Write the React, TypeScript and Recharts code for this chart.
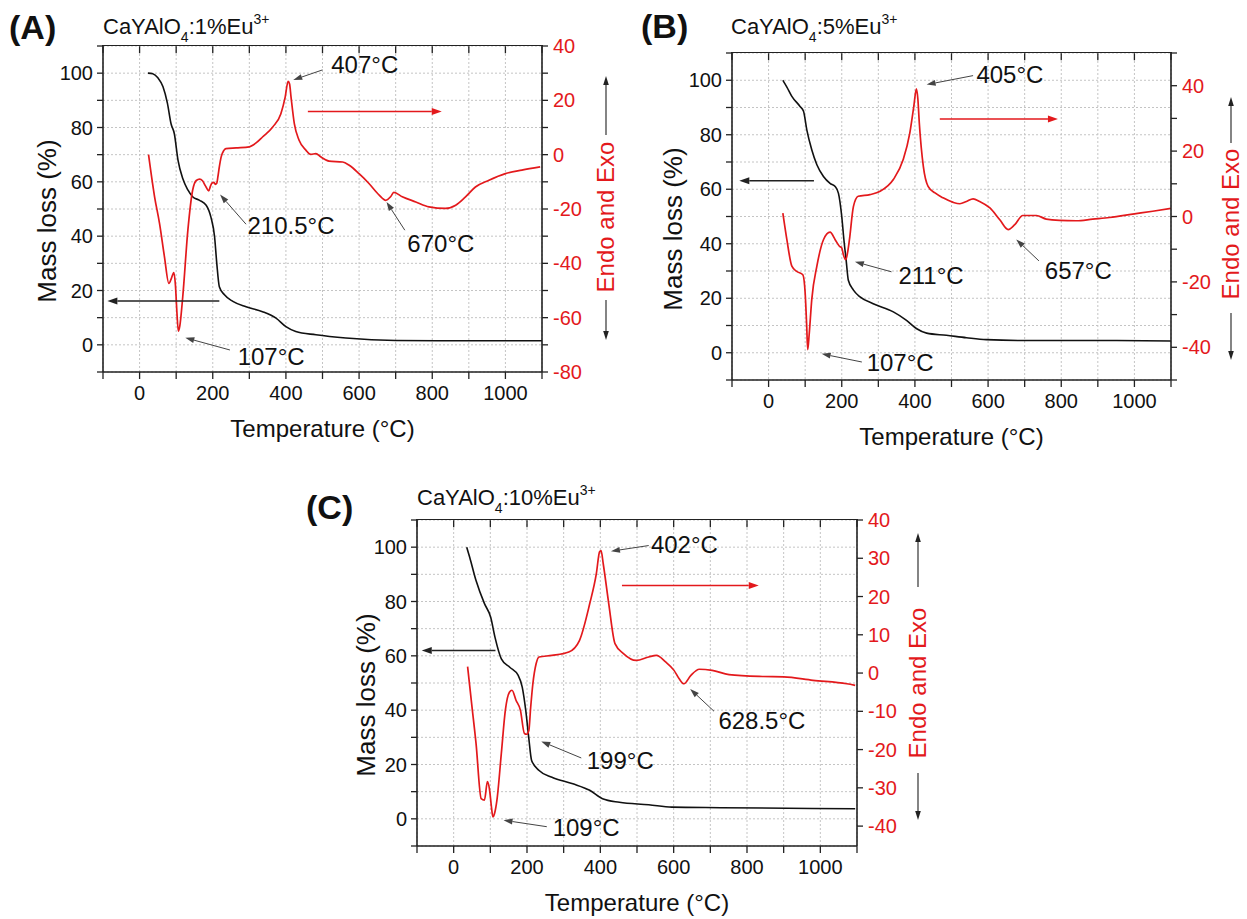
import React from "react";
import { LineChart, Line, XAxis, YAxis, CartesianGrid, ReferenceLine, ReferenceDot } from "recharts";

const FONT = "'Liberation Sans', Arial, Helvetica, sans-serif";
const RED = "#e3191c";
const INK = "#111";

const TEMP_TICKS = [-100, 0, 100, 200, 300, 400, 500, 600, 700, 800, 900, 1000, 1100];
const TEMP_LABELS = [0, 200, 400, 600, 800, 1000];
const MASS_TICKS = [-10, 0, 10, 20, 30, 40, 50, 60, 70, 80, 90, 100, 110];
const MASS_LABELS = [0, 20, 40, 60, 80, 100];

// (A) CaYAlO4:1%Eu
const A_MASS_T = [23, 36, 50, 64, 76, 86, 95, 105, 118, 132, 145, 164, 182, 195, 205, 211, 218, 232, 255, 291, 336, 373, 400, 427, 482, 564, 700, 882, 1100];
const A_MASS = [100, 99.8, 98.3, 95, 89, 81.4, 77.7, 68, 61.2, 57, 54.5, 53.2, 51.4, 47, 39.8, 30, 21.4, 18.4, 16, 14, 12.2, 9.8, 6.7, 4.9, 3.7, 2.5, 1.6, 1.5, 1.5];
const A_DTA_T = [24.5, 41, 54.5, 68, 80, 87, 93.6, 98, 102, 106, 110, 118, 132, 145, 155, 164, 172, 180, 189, 194, 198, 203, 207, 211, 214, 218, 223, 230, 236, 264, 300, 320, 336, 364, 386, 398, 406, 410, 414, 423, 436, 455, 468, 482, 495, 518, 555, 573, 600, 627, 655, 673, 686, 695, 718, 755, 791, 836, 864, 891, 918, 955, 1000, 1045, 1095];
const A_DTA = [0, -15.5, -25.3, -37.6, -47.4, -45.5, -43.4, -48, -58, -65, -63, -52.3, -27.8, -13.1, -9.5, -9, -9.6, -11.5, -13.3, -11.5, -10.4, -10.2, -10.9, -10.5, -8.2, -4.5, -0.8, 1.5, 2.2, 2.5, 2.9, 4.5, 6.5, 10.2, 15, 21.2, 27, 26, 21.2, 11.4, 5.3, 1.6, 0.1, 0.4, -0.8, -2.4, -2.7, -3.9, -7, -10.6, -14.9, -16.8, -15.5, -13.9, -15.5, -17.4, -19.2, -19.8, -18.6, -15.5, -11.9, -9.4, -7, -5.7, -4.5];

// (B) CaYAlO4:5%Eu
const B_MASS_T = [39, 50, 63.6, 86, 95.5, 104.5, 118, 132, 150, 168, 182, 191, 200, 206, 212, 218, 232, 250, 286, 341, 377, 405, 432, 486, 541, 595, 705, 930, 1100];
const B_MASS = [100, 97.5, 94.1, 90.4, 88.6, 81.8, 74.5, 69, 64.7, 62.2, 61, 58.5, 50, 41.3, 34, 26.6, 23, 20.5, 18, 15, 11.9, 8.8, 7.2, 6.4, 5.5, 4.8, 4.5, 4.5, 4.3];
const B_DTA_T = [39, 50, 63.6, 77, 93.6, 100, 104, 107, 111, 118, 132, 150, 168, 182, 193.6, 200, 204.5, 211, 216, 221, 232, 245, 277, 305, 341, 368, 386, 397, 404, 408, 412, 423, 436, 455, 477, 505, 523, 541, 559, 577, 605, 632, 655, 673, 695, 732, 759, 795, 841, 886, 932, 1000, 1050, 1100];
const B_DTA = [1, -7.1, -15.2, -16.8, -17.8, -23.4, -33, -40.7, -36, -25.4, -15.2, -7.1, -4.8, -7.1, -9.1, -9.6, -11.7, -13.2, -11, -7.1, 3.1, 6.2, 6.7, 7.7, 11.3, 17.4, 25.5, 33.7, 39, 36, 28.6, 15.3, 9.2, 7.2, 5.7, 4.3, 3.9, 4.6, 5.4, 4.6, 2.6, -1, -4, -2.5, 0.3, 0.3, -0.8, -1.2, -1.3, -0.8, -0.3, 0.8, 1.6, 2.5];

// (C) CaYAlO4:10%Eu
const C_MASS_T = [35.6, 43.7, 61, 84, 101, 112.6, 130, 153, 176, 187, 196.6, 204.6, 212.6, 233, 268, 325, 371, 406, 452, 532, 595, 728, 1095];
const C_MASS = [100, 96.3, 87.7, 79.2, 74.2, 66.9, 58.9, 55.8, 52.8, 48.5, 39.9, 30.1, 21.5, 17.8, 15.3, 12.9, 10.5, 7.4, 6.1, 5.2, 4.3, 4.1, 3.7];
const C_DTA_T = [38, 49, 61, 75, 84, 92, 98, 103, 107, 112, 118, 130, 141, 152, 159, 170, 182, 193, 199, 205, 210, 216, 225, 233, 268, 314, 343, 371, 389, 398, 402, 408, 423, 440, 463, 498, 532, 553, 578, 601, 615, 628, 647, 670, 705, 751, 842, 900, 980, 1072, 1095];
const C_DTA = [1.7, -8, -18.4, -32.8, -33.2, -28.4, -30.6, -35, -37.6, -36.5, -33.2, -21, -9.7, -5, -4.5, -7.1, -9.7, -15.8, -16, -15, -9, -2.8, 2.5, 4.2, 4.6, 5.5, 8.5, 18.1, 25.9, 31.7, 32, 28.5, 18.1, 7.7, 5.1, 3.3, 4.2, 4.6, 2.9, 0.7, -1.5, -2.8, -0.6, 1, 0.7, -0.4, -0.9, -1, -1.9, -2.8, -3.2];

// peak labels: text anchor (t, mass%), arrow from -> to
type Note = { text: string; t: number; v: number; from: [number, number]; to: [number, number] };
const A_NOTES: Note[] = [
  { text: "407°C", t: 524, v: 103.4, from: [500, 101.2], to: [420, 97.5] },
  { text: "210.5°C", t: 295, v: 44.1, from: [291, 44.4], to: [220, 55.3] },
  { text: "670°C", t: 732, v: 37.3, from: [725, 42.2], to: [675, 52.6] },
  { text: "107°C", t: 268, v: -4.1, from: [247, -1.9], to: [125, 2.6] },
];
const B_NOTES: Note[] = [
  { text: "405°C", t: 568, v: 102, from: [559, 101.7], to: [432, 98.4] },
  { text: "211°C", t: 355, v: 28.5, from: [336, 29.7], to: [236, 33.4] },
  { text: "657°C", t: 755, v: 30.3, from: [739, 33.7], to: [677, 41.6] },
  { text: "107°C", t: 268, v: -3.4, from: [255, -3.4], to: [145, -0.4] },
];
const C_NOTES: Note[] = [
  { text: "402°C", t: 538, v: 101, from: [532, 100.6], to: [429, 98.5] },
  { text: "199°C", t: 363, v: 21.7, from: [348, 22.4], to: [239, 28.5] },
  { text: "628.5°C", t: 722, v: 36.2, from: [710, 39.6], to: [645, 47.8] },
  { text: "109°C", t: 270, v: -3.1, from: [254, -2.9], to: [136, -0.5] },
];

const arrowShape = (color: string, w: number, head: number, spread: number) => (p: any) => {
  const { x1, y1, x2, y2 } = p;
  const a = Math.atan2(y2 - y1, x2 - x1);
  const bx = x2 - head * Math.cos(a);
  const by = y2 - head * Math.sin(a);
  const nx = -Math.sin(a) * spread;
  const ny = Math.cos(a) * spread;
  return (
    <g>
      <line x1={x1} y1={y1} x2={bx} y2={by} stroke={color} strokeWidth={w} />
      <polygon points={`${x2},${y2} ${bx + nx},${by + ny} ${bx - nx},${by - ny}`} fill={color} />
    </g>
  );
};

// inward tick on the top edge of the frame
const topTick = (p: any) => <line x1={p.x1} y1={p.y1} x2={p.x1} y2={p.y1 + 7} stroke="#222" strokeWidth={1.3} />;

const noteText = (text: string) => (p: any) => (
  <text x={p.cx} y={p.cy} dy="0.36em" fontSize={24} fill={INK} fontFamily={FONT}>{text}</text>
);

function VArrow({ x, y1, y2, up }: { x: number; y1: number; y2: number; up: boolean }) {
  const h = y2 - y1;
  return (
    <svg style={{ position: "absolute", left: x - 5, top: y1, overflow: "visible" }} width={10} height={h}>
      <line x1={5} x2={5} y1={up ? 7 : 0} y2={up ? h : h - 7} stroke="#333" strokeWidth={1.2} />
      {up ? <polygon points="5,0 2.2,9 7.8,9" fill="#222" /> : <polygon points={`5,${h} 2.2,${h - 9} 7.8,${h - 9}`} fill="#222" />}
    </svg>
  );
}

type PanelCfg = {
  letter: string; dope: string;
  box: { left: number; top: number; width: number; height: number };
  margin: { top: number; left: number; right: number; bottom: number };
  rightDomain: [number, number]; rightTicks: number[]; rightLabels: number[];
  massT: number[]; mass: number[]; dtaT: number[]; dta: number[];
  notes: Note[];
  blackArrow: [number, number, number]; // from t, to t, mass %
  redArrow: [number, number, number]; // from t, to t, right value
  massDx: number; endoDx: number; endoDy: number;
  up: [number, number]; down: [number, number];
  letterPos: [number, number]; titlePos: [number, number];
};

const range = (a: number, b: number) => { const r: number[] = []; for (let v = a; v <= b; v += 10) r.push(v); return r; };

const PANELS: PanelCfg[] = [
  {
    letter: "(A)", dope: "1%", box: { left: 0, top: 0, width: 620, height: 460 },
    margin: { top: 46, left: 43, right: 18, bottom: 28 },
    rightDomain: [-80, 40], rightTicks: range(-80, 40), rightLabels: [-80, -60, -40, -20, 0, 20, 40],
    massT: A_MASS_T, mass: A_MASS, dtaT: A_DTA_T, dta: A_DTA, notes: A_NOTES,
    blackArrow: [218, -88, 16.1], redArrow: [460, 826, 15.9],
    massDx: -56, endoDx: 64, endoDy: 8, up: [30, 89], down: [254, 294],
    letterPos: [9, 27], titlePos: [103, 27],
  },
  {
    letter: "(B)", dope: "5%", box: { left: 620, top: 0, width: 627, height: 460 },
    margin: { top: 53, left: 52, right: 16, bottom: 20 },
    rightDomain: [-50, 50], rightTicks: range(-50, 50), rightLabels: [-40, -20, 0, 20, 40],
    massT: B_MASS_T, mass: B_MASS, dtaT: B_DTA_T, dta: B_DTA, notes: B_NOTES,
    blackArrow: [124, -80, 63.1], redArrow: [468, 791, 29.8],
    massDx: -59, endoDx: 60, endoDy: 7, up: [44, 90], down: [260, 307],
    letterPos: [641, 26], titlePos: [731, 27],
  },
  {
    letter: "(C)", dope: "10%", box: { left: 300, top: 470, width: 660, height: 449 },
    margin: { top: 50, left: 57, right: 43, bottom: 13 },
    rightDomain: [-45.2, 40], rightTicks: range(-40, 40), rightLabels: range(-40, 40),
    massT: C_MASS_T, mass: C_MASS, dtaT: C_DTA_T, dta: C_DTA, notes: C_NOTES,
    blackArrow: [114, -87, 62], redArrow: [459, 832, 22.9],
    massDx: -51, endoDx: 61, endoDy: 0, up: [13, 67], down: [253, 300],
    letterPos: [306, 507], titlePos: [417, 498],
  },
];

const AXIS_W = 60;
const XAXIS_H = 60;

function Panel({ cfg }: { cfg: PanelCfg }) {
  const massData = cfg.massT.map((t, i) => ({ t, v: cfg.mass[i] }));
  const dtaData = cfg.dtaT.map((t, i) => ({ t, v: cfg.dta[i] }));
  const { box, margin } = cfg;
  const x0 = box.left + margin.left + AXIS_W;
  const x1 = box.left + box.width - margin.right - AXIS_W;
  const y0 = box.top + margin.top;
  const y1 = box.top + box.height - margin.bottom - XAXIS_H;
  const cy = (y0 + y1) / 2;
  const axisLine = { stroke: "#222", strokeWidth: 1.6 };
  const tickLine = { stroke: "#222", strokeWidth: 1.3 };

  return (
    <>
      <div style={{ position: "absolute", left: box.left, top: box.top }}>
        <LineChart width={box.width} height={box.height} margin={margin} style={{ fontFamily: FONT }}>
          <CartesianGrid xAxisId="b" yAxisId="left" stroke="#c4c4c4" strokeDasharray="2 2" />
          <XAxis xAxisId="b" type="number" dataKey="t" domain={[-100, 1100]} ticks={TEMP_TICKS} interval={0}
            allowDataOverflow height={XAXIS_H} tickSize={7} tickMargin={7} axisLine={axisLine} tickLine={tickLine}
            tick={{ fontSize: 20, fill: INK }} tickFormatter={(v: number) => (TEMP_LABELS.includes(v) ? String(v) : "")} />
          <YAxis yAxisId="left" type="number" domain={[-10, 110]} ticks={MASS_TICKS} interval={0} allowDataOverflow
            width={AXIS_W} tickSize={6} tickMargin={4} axisLine={axisLine} tickLine={tickLine}
            tick={{ fontSize: 20, fill: INK }} tickFormatter={(v: number) => (MASS_LABELS.includes(v) ? String(v) : "")} />
          <YAxis yAxisId="right" orientation="right" type="number" domain={cfg.rightDomain} ticks={cfg.rightTicks}
            interval={0} allowDataOverflow width={AXIS_W} tickSize={6} tickMargin={5} axisLine={axisLine} tickLine={tickLine}
            tick={{ fontSize: 20, fill: RED }} tickFormatter={(v: number) => (cfg.rightLabels.includes(v) ? String(v) : "")} />
          {TEMP_TICKS.map((t) => (
            <ReferenceLine key={"tt" + t} xAxisId="b" yAxisId="left"
              segment={[{ x: t, y: 109.9 }, { x: t, y: 108 }]} shape={topTick} />
          ))}
          <Line data={massData} dataKey="v" xAxisId="b" yAxisId="left" type="monotone" stroke={INK} strokeWidth={1.6}
            dot={false} isAnimationActive={false} />
          <Line data={dtaData} dataKey="v" xAxisId="b" yAxisId="right" type="monotone" stroke={RED} strokeWidth={1.7}
            dot={false} isAnimationActive={false} />
          <ReferenceLine xAxisId="b" yAxisId="left"
            segment={[{ x: cfg.blackArrow[0], y: cfg.blackArrow[2] }, { x: cfg.blackArrow[1], y: cfg.blackArrow[2] }]}
            shape={arrowShape("#222", 1.5, 10, 3.5)} />
          <ReferenceLine xAxisId="b" yAxisId="right"
            segment={[{ x: cfg.redArrow[0], y: cfg.redArrow[2] }, { x: cfg.redArrow[1], y: cfg.redArrow[2] }]}
            shape={arrowShape(RED, 1.5, 10, 3.5)} />
          {cfg.notes.map((n) => (
            <ReferenceLine key={n.text + "a"} xAxisId="b" yAxisId="left"
              segment={[{ x: n.from[0], y: n.from[1] }, { x: n.to[0], y: n.to[1] }]}
              shape={arrowShape("#444", 1, 9, 3)} />
          ))}
          {cfg.notes.map((n) => (
            <ReferenceDot key={n.text} xAxisId="b" yAxisId="left" x={n.t} y={n.v} r={0} ifOverflow="visible" shape={noteText(n.text)} />
          ))}
        </LineChart>
      </div>
      {/* top edge of the plot frame */}
      <div style={{ position: "absolute", left: x0 - 0.8, top: y0 - 0.8, width: x1 - x0 + 1.6, height: 0, borderTop: "1.6px solid #222" }} />
      <div style={{ position: "absolute", left: cfg.letterPos[0], top: cfg.letterPos[1] - 17, fontSize: 34, lineHeight: "34px", fontWeight: "bold" }}>
        {cfg.letter}
      </div>
      <div style={{ position: "absolute", left: cfg.titlePos[0], top: cfg.titlePos[1] - 11, fontSize: 22, lineHeight: "22px", whiteSpace: "nowrap" }}>
        CaYAlO<span style={{ fontSize: 14, position: "relative", top: 8 }}>4</span>:{cfg.dope}Eu
        <span style={{ fontSize: 14, position: "relative", top: -10 }}>3+</span>
      </div>
      <div style={{ position: "absolute", left: x0 + cfg.massDx, top: cy + 12, transform: "translate(-50%,-50%) rotate(-90deg)", fontSize: 26, lineHeight: "26px", whiteSpace: "nowrap" }}>
        Mass loss (%)
      </div>
      <div style={{ position: "absolute", left: (x0 + x1) / 2, top: y1 + 57, transform: "translate(-50%,-50%)", fontSize: 24, lineHeight: "24px", whiteSpace: "nowrap" }}>
        Temperature (°C)
      </div>
      <div style={{ position: "absolute", left: x1 + cfg.endoDx, top: cy + cfg.endoDy, transform: "translate(-50%,-50%) rotate(-90deg)", fontSize: 24, lineHeight: "24px", whiteSpace: "nowrap", color: RED }}>
        Endo and Exo
      </div>
      <VArrow x={x1 + cfg.endoDx} y1={y0 + cfg.up[0]} y2={y0 + cfg.up[1]} up />
      <VArrow x={x1 + cfg.endoDx} y1={y0 + cfg.down[0]} y2={y0 + cfg.down[1]} up={false} />
    </>
  );
}

export default function App() {
  return (
    <div style={{ position: "relative", width: 1247, height: 919, background: "#fff", fontFamily: FONT, color: INK, overflow: "hidden" }}>
      <style>{"body{margin:0}"}</style>
      {PANELS.map((p) => (
        <Panel key={p.letter} cfg={p} />
      ))}
    </div>
  );
}
